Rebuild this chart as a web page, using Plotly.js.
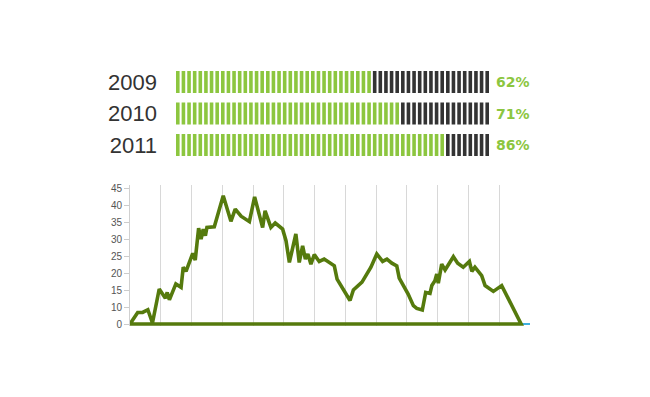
<!DOCTYPE html>
<html>
<head>
<meta charset="utf-8">
<script src="https://cdn.plot.ly/plotly-3.0.1.min.js"></script>
<style>html,body{margin:0;padding:0;background:#fff;}#chart{width:650px;height:397px;}</style>
</head>
<body>
<div id="chart"></div>
<script>
// ---- bar rows ----
const years = ['2009', '2010', '2011'];
const percents = [62, 71, 86];
const segmentCount = 56;

// ---- line series (x in gridline intervals, y in axis units; axis floor is labelled "0") ----
const lineX = [0, 0.25, 0.41, 0.58, 0.73, 0.95, 1.15, 1.21, 1.28, 1.49, 1.66, 1.73, 1.82, 2.04, 2.12,
  2.23, 2.31, 2.38, 2.45, 2.50, 2.74, 3.03, 3.28, 3.42, 3.61, 3.88, 4.05, 4.31, 4.39, 4.58, 4.72,
  4.96, 5.07, 5.18, 5.39, 5.50, 5.61, 5.70, 5.78, 5.88, 5.99, 6.15, 6.31, 6.64, 6.73, 7.15, 7.26,
  7.54, 7.83, 8.02, 8.21, 8.35, 8.51, 8.67, 8.75, 9.04, 9.21, 9.32, 9.50, 9.61, 9.75, 9.81, 9.91,
  9.97, 10.02, 10.13, 10.24, 10.51, 10.65, 10.83, 11.03, 11.11, 11.21, 11.35, 11.43, 11.54, 11.81,
  12.08, 12.71];
const lineY = [5, 8.4, 8.4, 9.2, 5.3, 15.3, 12.6, 14.3, 12.1, 16.8, 15.8, 21.7, 20.5, 25.8, 23.8,
  33.2, 30.0, 32.9, 31.0, 33.4, 33.6, 42.7, 35.2, 38.8, 36.7, 35.1, 42.4, 33.4, 38.3, 33.4, 34.7,
  32.9, 29.5, 23.1, 31.5, 23.1, 28.0, 24.1, 25.6, 22.6, 25.4, 23.4, 24.1, 22.1, 18.2, 11.9, 15.0,
  17.3, 21.7, 25.6, 23.4, 24.1, 22.9, 22.1, 18.5, 13.8, 10.4, 9.6, 9.1, 14.3, 14.0, 16.3, 17.7,
  19.7, 17.0, 22.6, 20.9, 24.8, 22.9, 21.7, 23.4, 20.5, 21.7, 20.2, 19.2, 16.3, 14.6,
  16.3, 5];
const tickValues = [5, 10, 15, 20, 25, 30, 35, 40, 45];
const tickLabels = ['0', '10', '15', '20', '25', '30', '35', '40', '45'];

const GREEN = '#8cc63f';
const DARK = '#333333';
const LINE = '#557a0d';
const segW = 0.64;

const traces = [];
const gY = [], gB = [], gX = [], dY = [], dB = [], dX = [];
years.forEach((yr, i) => {
  const g = Math.round(percents[i] / 100 * segmentCount);
  for (let k = 0; k < segmentCount; k++) {
    if (k < g) { gY.push(yr); gB.push(k); gX.push(segW); }
    else { dY.push(yr); dB.push(k); dX.push(segW); }
  }
});
traces.push({type: 'bar', orientation: 'h', y: gY, x: gX, base: gB, width: 0.7,
  marker: {color: GREEN}, xaxis: 'x2', yaxis: 'y2', hoverinfo: 'skip'});
traces.push({type: 'bar', orientation: 'h', y: dY, x: dX, base: dB, width: 0.7,
  marker: {color: DARK}, xaxis: 'x2', yaxis: 'y2', hoverinfo: 'skip'});

const base = tickValues[0];
traces.push({type: 'scatter', mode: 'lines',
  x: lineX.concat([lineX[0]]), y: lineY.concat([base]),
  line: {color: LINE, width: 3.6, shape: 'linear'},
  xaxis: 'x', yaxis: 'y', hoverinfo: 'skip'});

const annotations = years.map((yr, i) => ({
  xref: 'x2 domain', yref: 'y2', x: 1, y: i, xanchor: 'left', yanchor: 'middle',
  xshift: 5, text: percents[i] + '%', showarrow: false,
  font: {family: 'DejaVu Sans, Verdana, sans-serif', size: 14, color: GREEN, weight: 'bold'}
}));

const yMin = 4.4, yMax = 46;
const layout = {
  width: 650, height: 397,
  margin: {l: 0, r: 0, t: 0, b: 0},
  paper_bgcolor: '#fff', plot_bgcolor: '#fff',
  showlegend: false, barmode: 'overlay',
  xaxis: {domain: [130/650, 530/650], range: [0, 13], dtick: 1, tick0: 0,
    showgrid: true, gridcolor: '#d8d8d8', gridwidth: 1,
    showticklabels: false, ticks: '', zeroline: false, layer: 'below traces',
    showline: false, fixedrange: true},
  yaxis: {domain: [1 - 326.04/397, 1 - 184.6/397], range: [yMin, yMax],
    tickmode: 'array', tickvals: tickValues, ticktext: tickLabels,
    showgrid: false, zeroline: false, showline: true, linecolor: '#d0d0d0', linewidth: 1,
    ticks: 'outside', ticklen: 5, tickcolor: '#cccccc', tickwidth: 1, layer: 'below traces',
    tickfont: {family: 'Liberation Sans, Arial, sans-serif', size: 10, color: '#555'}, fixedrange: true},
  xaxis2: {domain: [176/650, 489/650], range: [0, segmentCount - (1 - segW)],
    anchor: 'y2', showgrid: false, zeroline: false, showticklabels: false, showline: false, ticks: '', fixedrange: true},
  yaxis2: {domain: [1 - 160.75/397, 1 - 66.25/397], range: [2.5, -0.5], type: 'category',
    anchor: 'x2', showgrid: false, zeroline: false, showline: false, ticks: '',
    ticklabelstandoff: 18,
    tickfont: {family: 'Liberation Sans, Arial, sans-serif', size: 22, color: '#333'}, fixedrange: true},
  shapes: [{type: 'line', layer: 'below', xref: 'x domain', yref: 'y', x0: 0, x1: 1, y0: base, y1: base,
    line: {color: '#3fb0e0', width: 2}}],
  annotations: annotations
};

Plotly.newPlot('chart', traces, layout, {displayModeBar: false, staticPlot: true});
</script>
</body>
</html>
